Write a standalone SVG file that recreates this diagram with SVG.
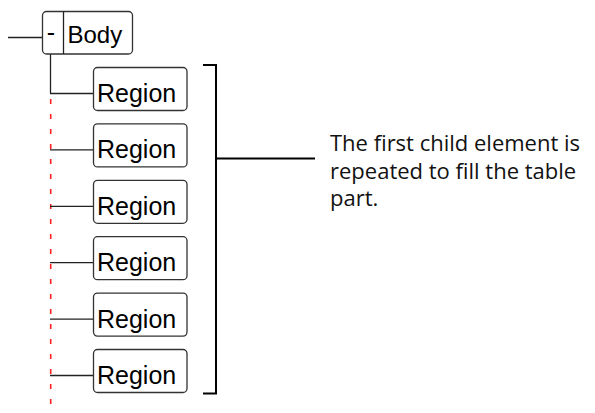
<svg xmlns="http://www.w3.org/2000/svg" width="595" height="413" viewBox="0 0 595 413">
<style>
.box{fill:#fff;stroke:#333;stroke-width:1.3}
.lbl{font-family:"Liberation Sans",Arial,sans-serif;font-size:25px;fill:#000}
.ln{stroke:#222;stroke-width:1.3;fill:none}
.red{stroke:#ff2020;stroke-width:1.6;stroke-dasharray:5 10;fill:none}
.br{stroke:#000;stroke-width:2;fill:none}
.note{font-family:"Open Sans","DejaVu Sans",sans-serif;font-size:22px;fill:#111}
</style>
<g id="connectors">
<line class="ln" x1="8" y1="37.5" x2="42.5" y2="37.5"/>
<line class="ln" x1="50.5" y1="54" x2="50.5" y2="93.5"/>
<line class="red" x1="50.7" y1="99" x2="50.7" y2="413"/>
<line class="ln" x1="50" y1="93.5" x2="93.5" y2="93.5"/>
<line class="ln" x1="50" y1="149.9" x2="93.5" y2="149.9"/>
<line class="ln" x1="50" y1="206.3" x2="93.5" y2="206.3"/>
<line class="ln" x1="50" y1="262.7" x2="93.5" y2="262.7"/>
<line class="ln" x1="50" y1="319.1" x2="93.5" y2="319.1"/>
<line class="ln" x1="50" y1="375.5" x2="93.5" y2="375.5"/>
<path class="br" d="M203 65H216V393.5H203M216 158.5H315"/>
</g>
<g id="body">
<rect class="box" x="42.5" y="11.5" width="90" height="42.5" rx="4"/>
<line class="ln" x1="63.5" y1="11.5" x2="63.5" y2="54"/>
<text class="lbl" x="51" y="41" text-anchor="middle">-</text>
<text class="lbl" x="67.5" y="42.5" style="font-size:24px">Body</text>
</g>
<g id="region1"><rect class="box" x="93.5" y="67.5" width="93.5" height="43" rx="4"/><text class="lbl" x="97" y="102">Region</text></g>
<g id="region2"><rect class="box" x="93.5" y="123.9" width="93.5" height="43" rx="4"/><text class="lbl" x="97" y="158.4">Region</text></g>
<g id="region3"><rect class="box" x="93.5" y="180.3" width="93.5" height="43" rx="4"/><text class="lbl" x="97" y="214.8">Region</text></g>
<g id="region4"><rect class="box" x="93.5" y="236.7" width="93.5" height="43" rx="4"/><text class="lbl" x="97" y="271.2">Region</text></g>
<g id="region5"><rect class="box" x="93.5" y="293.1" width="93.5" height="43" rx="4"/><text class="lbl" x="97" y="327.6">Region</text></g>
<g id="region6"><rect class="box" x="93.5" y="349.5" width="93.5" height="43" rx="4"/><text class="lbl" x="97" y="384">Region</text></g>
<g id="note">
<text class="note" x="330" y="151">The first child element is</text>
<text class="note" x="330" y="178.5">repeated to fill the table</text>
<text class="note" x="330" y="206">part.</text>
</g>
</svg>
